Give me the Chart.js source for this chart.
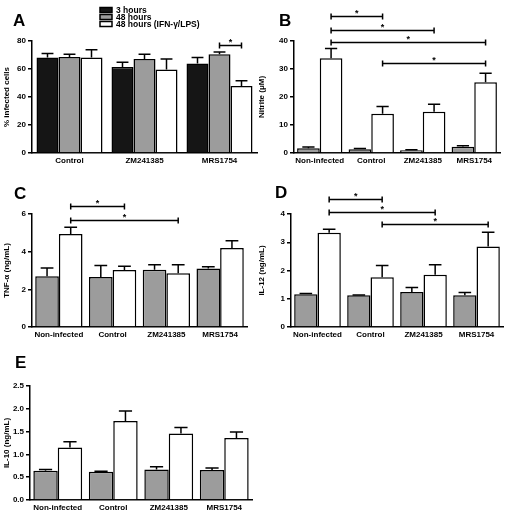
<!DOCTYPE html>
<html lang="en">
<head>
<meta charset="UTF-8" />
<title>Infection and cytokine panels</title>
<script src="https://cdn.jsdelivr.net/npm/chart.js"></script>
<style>
  body { margin: 0; background: #fff; }
  #fig { position: relative; width: 515px; height: 512px; }
  canvas { position: absolute; }
</style>
</head>
<body>
<div id="fig">
  <canvas id="chartA" width="260" height="170" style="left:0;top:0"></canvas>
  <canvas id="chartB" width="260" height="170" style="left:255px;top:0"></canvas>
  <canvas id="chartC" width="260" height="180" style="left:0;top:165px"></canvas>
  <canvas id="chartD" width="260" height="180" style="left:255px;top:165px"></canvas>
  <canvas id="chartE" width="260" height="172" style="left:0;top:340px"></canvas>
</div>
<script>
// ---- data ----
const groupsA = ["Control", "ZM241385", "MRS1754"];
const groups = ["Non-infected", "Control", "ZM241385", "MRS1754"];
const seriesA = ["3 hours", "48 hours", "48 hours (IFN-\u03b3/LPS)"];

// A: % infected cells
const infected3h = [68.2, 61.5, 63.9];
const infected3hErr = [2.8, 3.4, 4.3];
const infected48h = [68.6, 67.2, 70.5];
const infected48hErr = [1.9, 3.3, 1.7];
const infectedIfn = [68.2, 59.6, 47.8];
const infectedIfnErr = [5.6, 7.6, 3.8];

// B: nitrite (uM)
const nitriteBasal = [1.7, 1.3, 1.0, 2.2];
const nitriteBasalErr = [0.4, 0.3, 0.2, 0.4];
const nitriteStim = [33.8, 14.0, 14.7, 25.3];
const nitriteStimErr = [3.5, 2.6, 2.7, 3.2];

// C: TNF-alpha (ng/mL)
const tnfBasal = [2.69, 2.65, 3.04, 3.1];
const tnfBasalErr = [0.44, 0.62, 0.26, 0.1];
const tnfStim = [4.94, 3.03, 2.85, 4.19];
const tnfStimErr = [0.36, 0.19, 0.45, 0.39];

// D: IL-12 (ng/mL)
const il12Basal = [1.16, 1.12, 1.24, 1.12];
const il12BasalErr = [0.03, 0.01, 0.16, 0.1];
const il12Stim = [3.34, 1.76, 1.85, 2.85];
const il12StimErr = [0.12, 0.42, 0.35, 0.5];

// E: IL-10 (ng/mL)
const il10Basal = [0.64, 0.62, 0.67, 0.66];
const il10BasalErr = [0.03, 0.01, 0.06, 0.04];
const il10Stim = [1.15, 1.73, 1.46, 1.36];
const il10StimErr = [0.13, 0.22, 0.13, 0.13];

// significance brackets: [dataset, category] -> [dataset, category] at y value
const bracketsA = [{ from: [1, 2], to: [2, 2], y: 77.5 }];
const bracketsB = [
  { from: [1, 0], to: [1, 1], y: 48.8 },
  { from: [1, 0], to: [1, 2], y: 43.8 },
  { from: [1, 0], to: [1, 3], y: 39.6 },
  { from: [1, 1], to: [1, 3], y: 32.2 }
];
const bracketsC = [
  { from: [1, 0], to: [1, 1], y: 6.4 },
  { from: [1, 0], to: [1, 2], y: 5.66 }
];
const bracketsD = [
  { from: [1, 0], to: [1, 1], y: 4.52 },
  { from: [1, 0], to: [1, 2], y: 4.07 },
  { from: [1, 1], to: [1, 3], y: 3.66 }
];

const BLACK = "#151515";
const GREY = "#9c9c9c";
const FONT = "'Liberation Sans', Arial, sans-serif";

// error bars, brackets, panel letter and legend
const decor = {
  id: "decor",
  afterDatasetsDraw(chart) {
    const ctx = chart.ctx;
    const y = chart.scales.y;
    ctx.save();
    ctx.strokeStyle = "#000";
    ctx.lineWidth = 1.5;
    chart.data.datasets.forEach((ds, di) => {
      const meta = chart.getDatasetMeta(di);
      meta.data.forEach((bar, i) => {
        const top = y.getPixelForValue(ds.data[i] + ds.err[i]);
        const half = bar.width * 0.27;
        ctx.beginPath();
        ctx.moveTo(bar.x, bar.y);
        ctx.lineTo(bar.x, top);
        ctx.moveTo(bar.x - half, top);
        ctx.lineTo(bar.x + half, top);
        ctx.stroke();
      });
    });
    ctx.restore();
  },
  afterDraw(chart, args, opts) {
    const ctx = chart.ctx;
    const y = chart.scales.y;
    ctx.save();
    ctx.strokeStyle = "#000";
    ctx.fillStyle = "#000";
    ctx.lineWidth = 1.5;
    (opts.brackets || []).forEach(b => {
      const x1 = chart.getDatasetMeta(b.from[0]).data[b.from[1]].x;
      const x2 = chart.getDatasetMeta(b.to[0]).data[b.to[1]].x;
      const py = Math.round(y.getPixelForValue(b.y)) + 0.5;
      ctx.beginPath();
      ctx.moveTo(x1, py); ctx.lineTo(x2, py);
      ctx.moveTo(x1, py - 3); ctx.lineTo(x1, py + 3);
      ctx.moveTo(x2, py - 3); ctx.lineTo(x2, py + 3);
      ctx.stroke();
      ctx.font = "bold 9px " + FONT;
      ctx.textAlign = "center";
      ctx.textBaseline = "alphabetic";
      ctx.fillText("*", (x1 + x2) / 2, py - 1);
    });
    if (opts.letter) {
      ctx.font = "bold 17px " + FONT;
      ctx.textAlign = "left";
      ctx.textBaseline = "alphabetic";
      ctx.fillText(opts.letter, opts.letterX, opts.letterY);
    }
    if (opts.legend) {
      ctx.font = "bold 8.5px " + FONT;
      ctx.textBaseline = "middle";
      chart.data.datasets.forEach((ds, i) => {
        const ly = opts.legend.y + i * 7;
        ctx.fillStyle = ds.backgroundColor;
        ctx.fillRect(opts.legend.x, ly - 2.5, 12, 5);
        ctx.strokeRect(opts.legend.x, ly - 2.5, 12, 5);
        ctx.fillStyle = "#000";
        ctx.fillText(ds.label, opts.legend.x + 16, ly + 0.5);
      });
    }
    ctx.restore();
  }
};

function bars(label, color, data, err) {
  return {
    label: label,
    data: data,
    err: err,
    backgroundColor: color,
    borderColor: "#000",
    borderWidth: 1.5,
    categoryPercentage: 0.88,
    barPercentage: 1.0
  };
}

function makePanel(id, p) {
  return new Chart(document.getElementById(id), {
    type: "bar",
    data: { labels: p.labels, datasets: p.datasets },
    options: {
      responsive: false,
      animation: false,
      layout: { padding: { left: 0, right: p.right, top: p.top, bottom: 0 } },
      plugins: {
        legend: { display: false },
        tooltip: { enabled: false },
        decor: { brackets: p.brackets, letter: p.letter, letterX: p.letterX, letterY: p.letterY, legend: p.legend }
      },
      scales: {
        x: {
          grid: { display: false, drawTicks: false },
          border: { color: "#000", width: 1.5 },
          ticks: { color: "#000", font: { family: FONT, size: 8, weight: "bold" }, maxRotation: 0, autoSkip: false, padding: 3 },
          afterFit: s => { s.height = p.xHeight; }
        },
        y: {
          min: 0,
          max: p.max,
          grid: { drawOnChartArea: false, drawTicks: true, tickLength: 4, color: "#000", lineWidth: 1.5 },
          border: { color: "#000", width: 1.5 },
          ticks: {
            stepSize: p.step,
            color: "#000",
            padding: 2,
            font: { family: FONT, size: 8, weight: "bold" },
            callback: v => p.decimals ? v.toFixed(p.decimals) : v
          },
          title: { display: true, text: p.title, color: "#000", font: { family: FONT, size: 8, weight: "bold" }, padding: { top: 2, bottom: 0 } },
          afterFit: s => { s.width = p.yWidth; }
        }
      }
    },
    plugins: [decor]
  });
}

makePanel("chartA", {
  labels: groupsA,
  datasets: [
    bars(seriesA[0], BLACK, infected3h, infected3hErr),
    bars(seriesA[1], GREY, infected48h, infected48hErr),
    bars(seriesA[2], "#fff", infectedIfn, infectedIfnErr)
  ],
  max: 80, step: 20, title: "% infected cells",
  yWidth: 32, right: 3, top: 41, xHeight: 17,
  brackets: bracketsA, letter: "A", letterX: 13, letterY: 26,
  legend: { x: 100, y: 10 }
});

makePanel("chartB", {
  labels: groups,
  datasets: [
    bars("Basal", GREY, nitriteBasal, nitriteBasalErr),
    bars("IFN-\u03b3/LPS", "#fff", nitriteStim, nitriteStimErr)
  ],
  max: 40, step: 10, title: "Nitrite (\u03bcM)",
  yWidth: 39, right: 15, top: 41, xHeight: 17,
  brackets: bracketsB, letter: "B", letterX: 24, letterY: 26
});

makePanel("chartC", {
  labels: groups,
  datasets: [
    bars("Basal", GREY, tnfBasal, tnfBasalErr),
    bars("IFN-\u03b3/LPS", "#fff", tnfStim, tnfStimErr)
  ],
  max: 6, step: 2, title: "TNF-\u03b1 (ng/mL)",
  yWidth: 32, right: 13, top: 49, xHeight: 18,
  brackets: bracketsC, letter: "C", letterX: 14, letterY: 34
});

makePanel("chartD", {
  labels: groups,
  datasets: [
    bars("Basal", GREY, il12Basal, il12BasalErr),
    bars("IFN-\u03b3/LPS", "#fff", il12Stim, il12StimErr)
  ],
  max: 4, step: 1, title: "IL-12 (ng/mL)",
  yWidth: 36, right: 12, top: 49, xHeight: 18,
  brackets: bracketsD, letter: "D", letterX: 20, letterY: 33
});

makePanel("chartE", {
  labels: groups,
  datasets: [
    bars("Basal", GREY, il10Basal, il10BasalErr),
    bars("IFN-\u03b3/LPS", "#fff", il10Stim, il10StimErr)
  ],
  max: 2.5, step: 0.5, decimals: 1, title: "IL-10 (ng/mL)",
  yWidth: 30, right: 8, top: 46, xHeight: 12,
  brackets: [], letter: "E", letterX: 15, letterY: 28
});
</script>
</body>
</html>
